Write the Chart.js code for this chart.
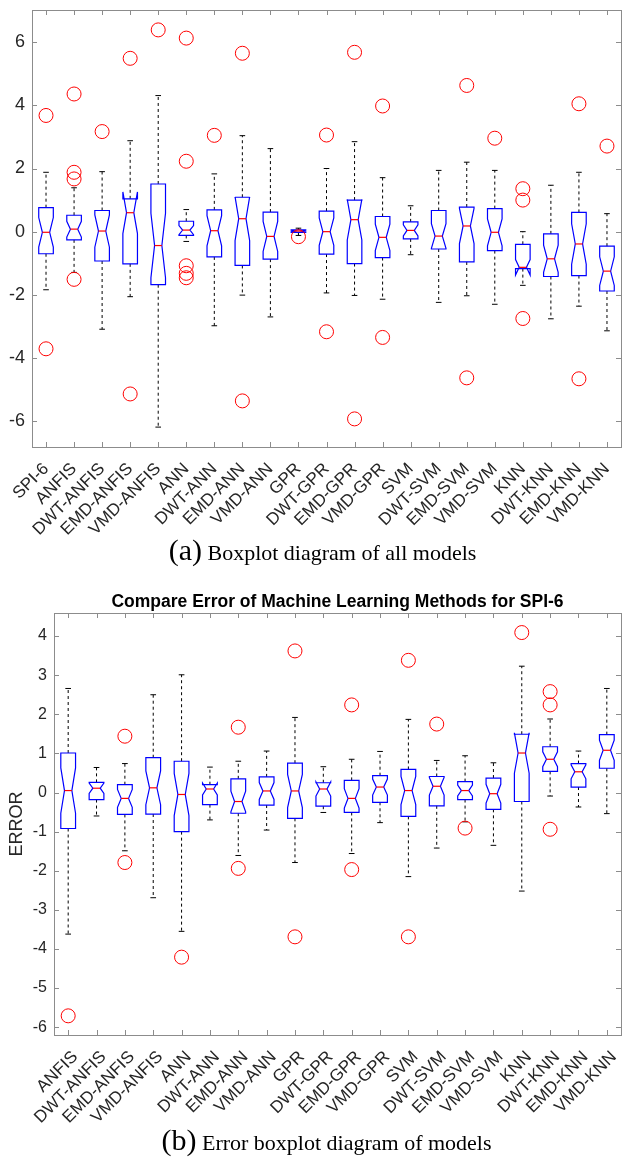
<!DOCTYPE html>
<html lang="en">
<head>
<meta charset="UTF-8">
<title>Boxplot diagrams of models</title>
<script src="https://cdn.jsdelivr.net/npm/chart.js"></script>
<style>
    body { margin: 0; background: #fff; width: 629px; height: 1159px; position: relative; overflow: hidden; }
    canvas { position: absolute; left: 0; }
    #chartA { top: 0; }
    #chartB { top: 560px; }
    .caption {
        position: absolute; left: 8px; width: 629px; text-align: center;
        font-family: "Liberation Serif", "Times New Roman", serif; font-size: 22px; line-height: 30px; color: #000;
    }
    .caption span { font-size: 30px; }
</style>
</head>
<body>
<canvas id="chartA" width="629" height="560"></canvas>
<canvas id="chartB" width="629" height="599"></canvas>
<div class="caption" style="top:535px"><span>(a)</span> Boxplot diagram of all models</div>
<div class="caption" style="top:1125px; left:12px"><span>(b)</span> Error boxplot diagram of models</div>
<script>
// ---- panel (a): all models ----
const namesA = ['SPI-6', 'ANFIS', 'DWT-ANFIS', 'EMD-ANFIS', 'VMD-ANFIS', 'ANN', 'DWT-ANN', 'EMD-ANN', 'VMD-ANN',
    'GPR', 'DWT-GPR', 'EMD-GPR', 'VMD-GPR', 'SVM', 'DWT-SVM', 'EMD-SVM', 'VMD-SVM', 'KNN', 'DWT-KNN', 'EMD-KNN', 'VMD-KNN'];
const lowA  = [-1.84, -1.29, -3.09, -2.06, -6.19, -0.31, -2.98, -2.01, -2.70, -0.12, -1.94, -2.02, -2.14, -0.73, -2.24, -2.03, -2.30, -1.70, -2.76, -2.36, -3.14];
const q1A   = [-0.70, -0.26, -0.93, -1.02, -1.68, -0.12, -0.80, -1.07, -0.87, -0.02, -0.71, -1.01, -0.82, -0.23, -0.55, -0.96, -0.60, -1.17, -1.42, -1.39, -1.88];
const medA  = [-0.02, 0.08, 0.02, 0.60, -0.44, 0.05, 0.03, 0.41, -0.15, 0.02, 0.00, 0.38, -0.18, 0.04, -0.14, 0.18, -0.02, -1.13, -0.86, -0.39, -1.25];
const q3A   = [0.76, 0.52, 0.67, 1.04, 1.51, 0.33, 0.69, 1.09, 0.62, 0.06, 0.65, 1.00, 0.48, 0.31, 0.67, 0.78, 0.73, -0.40, -0.07, 0.61, -0.46];
const highA = [1.88, 1.39, 1.90, 2.88, 4.31, 0.70, 1.83, 3.04, 2.63, 0.11, 2.00, 2.85, 1.71, 0.82, 1.94, 2.20, 1.94, 0.00, 1.47, 1.88, 0.57];
const outA  = [[3.68, -3.71], [4.36, 1.88, 1.67, -1.51], [3.17], [5.49, -5.14], [6.39], [6.13, 2.23, -1.08, -1.32, -1.46],
    [3.05], [5.65, -5.36], [], [-0.16], [3.06, -3.17], [5.68, -5.93], [3.98, -3.35], [], [], [4.63, -4.63], [2.96],
    [1.36, 1.00, -2.75], [], [4.05, -4.66], [2.71]];
const yTicksA = [-6, -4, -2, 0, 2, 4, 6];

// ---- panel (b): errors ----
const namesB = ['ANFIS', 'DWT-ANFIS', 'EMD-ANFIS', 'VMD-ANFIS', 'ANN', 'DWT-ANN', 'EMD-ANN', 'VMD-ANN',
    'GPR', 'DWT-GPR', 'EMD-GPR', 'VMD-GPR', 'SVM', 'DWT-SVM', 'EMD-SVM', 'VMD-SVM', 'KNN', 'DWT-KNN', 'EMD-KNN', 'VMD-KNN'];
const lowB  = [-3.62, -0.60, -1.49, -2.69, -3.55, -0.70, -1.61, -0.96, -1.79, -0.51, -1.56, -0.77, -2.15, -1.42, -0.75, -1.35, -2.52, -0.09, -0.37, -0.54];
const q1B   = [-0.92, -0.18, -0.56, -0.55, -1.00, -0.31, -0.53, -0.32, -0.66, -0.35, -0.51, -0.25, -0.61, -0.34, -0.18, -0.43, -0.23, 0.54, 0.14, 0.62];
const medB  = [0.05, 0.11, -0.15, 0.12, -0.05, 0.09, -0.23, 0.04, 0.04, 0.09, -0.15, 0.14, 0.05, 0.16, 0.05, -0.03, 1.01, 0.85, 0.53, 1.08];
const q3B   = [1.01, 0.26, 0.20, 0.89, 0.80, 0.20, 0.35, 0.40, 0.75, 0.25, 0.31, 0.43, 0.59, 0.41, 0.28, 0.37, 1.49, 1.17, 0.74, 1.48];
const highB = [2.66, 0.64, 0.74, 2.50, 3.01, 0.65, 0.80, 1.06, 1.92, 0.66, 0.85, 1.05, 1.87, 0.82, 0.94, 0.76, 3.23, 1.88, 1.06, 2.66];
const outB  = [[-5.71], [], [1.44, -1.79], [], [-4.21], [], [1.67, -1.94], [], [3.62, -3.69], [], [2.24, -1.97], [],
    [3.38, -3.69], [1.75], [-0.91], [], [4.09], [2.58, 2.24, -0.94], [], []];
const yTicksB = [-6, -5, -4, -3, -2, -1, 0, 1, 2, 3, 4];

const axisColor = '#8c8c8c';
const textColor = '#262626';

// notched boxes, whiskers and medians, matlab style
const notchBoxes = {
    id: 'notchBoxes',
    beforeDatasetsDraw(chart, args, opts) {
        const {ctx, chartArea, scales: {x, y}} = chart;
        const s = opts.stats;
        const w = opts.halfWidth;
        ctx.save();
        ctx.beginPath();
        ctx.rect(chartArea.left, chartArea.top, chartArea.width, chartArea.height);
        ctx.clip();
        s.med.forEach((m, i) => {
            const c = i + 1;
            const nh = opts.notch * (s.q3[i] - s.q1[i]);
            const X = v => x.getPixelForValue(v);
            const Y = v => y.getPixelForValue(v);

            // whiskers
            ctx.lineWidth = 1;
            ctx.strokeStyle = '#000';
            ctx.setLineDash([3, 3]);
            ctx.beginPath();
            ctx.moveTo(X(c), Y(s.q3[i])); ctx.lineTo(X(c), Y(s.high[i]));
            ctx.moveTo(X(c), Y(s.q1[i])); ctx.lineTo(X(c), Y(s.low[i]));
            ctx.stroke();
            ctx.setLineDash([]);
            ctx.beginPath();
            ctx.moveTo(X(c - 0.1), Y(s.high[i])); ctx.lineTo(X(c + 0.1), Y(s.high[i]));
            ctx.moveTo(X(c - 0.1), Y(s.low[i])); ctx.lineTo(X(c + 0.1), Y(s.low[i]));
            ctx.stroke();

            // box with notch
            ctx.strokeStyle = '#0000ff';
            ctx.lineWidth = 1.2;
            ctx.beginPath();
            ctx.moveTo(X(c - w), Y(s.q1[i]));
            ctx.lineTo(X(c - w), Y(m - nh));
            ctx.lineTo(X(c - w / 2), Y(m));
            ctx.lineTo(X(c - w), Y(m + nh));
            ctx.lineTo(X(c - w), Y(s.q3[i]));
            ctx.lineTo(X(c + w), Y(s.q3[i]));
            ctx.lineTo(X(c + w), Y(m + nh));
            ctx.lineTo(X(c + w / 2), Y(m));
            ctx.lineTo(X(c + w), Y(m - nh));
            ctx.lineTo(X(c + w), Y(s.q1[i]));
            ctx.closePath();
            ctx.stroke();

            // median
            ctx.strokeStyle = '#ff0000';
            ctx.beginPath();
            ctx.moveTo(X(c - w / 2), Y(m)); ctx.lineTo(X(c + w / 2), Y(m));
            ctx.stroke();
        });
        ctx.restore();
    }
};

// box around the axes with inward ticks on all sides
const axesFrame = {
    id: 'axesFrame',
    afterDraw(chart) {
        const {ctx, chartArea: a, scales: {x, y}} = chart;
        const t = 5;
        ctx.save();
        ctx.strokeStyle = axisColor;
        ctx.lineWidth = 1;
        ctx.beginPath();
        x.ticks.forEach(tk => {
            const px = Math.round(x.getPixelForValue(tk.value)) + 0.5;
            ctx.moveTo(px, a.bottom); ctx.lineTo(px, a.bottom - t);
            ctx.moveTo(px, a.top); ctx.lineTo(px, a.top + t);
        });
        y.ticks.forEach(tk => {
            const py = Math.round(y.getPixelForValue(tk.value)) + 0.5;
            ctx.moveTo(a.left, py); ctx.lineTo(a.left + t, py);
            ctx.moveTo(a.right, py); ctx.lineTo(a.right - t, py);
        });
        ctx.stroke();
        ctx.strokeRect(Math.round(a.left) + 0.5, Math.round(a.top) + 0.5, Math.round(a.width), Math.round(a.height));
        ctx.restore();
    }
};

function makeChart(id, cfg) {
    const outlierPoints = [];
    cfg.out.forEach((list, i) => list.forEach(v => outlierPoints.push({x: i + 1, y: v})));

    return new Chart(document.getElementById(id), {
        type: 'scatter',
        data: {
            datasets: [{
                label: 'outliers',
                data: outlierPoints,
                pointStyle: 'circle',
                pointRadius: 7,
                borderWidth: 1,
                borderColor: '#ff0000',
                backgroundColor: 'rgba(0,0,0,0)'
            }]
        },
        options: {
            responsive: false,
            animation: false,
            devicePixelRatio: 1,
            layout: {padding: cfg.padding},
            plugins: {
                legend: {display: false},
                tooltip: {enabled: false},
                title: cfg.title,
                notchBoxes: {stats: cfg.stats, halfWidth: 0.26, notch: cfg.notch}
            },
            scales: {
                x: {
                    type: 'linear',
                    min: 0.5,
                    max: cfg.names.length + 0.5,
                    afterBuildTicks: s => { s.ticks = cfg.names.map((n, i) => ({value: i + 1})); },
                    afterFit: s => { s.height = cfg.xHeight; s.paddingLeft = 0; s.paddingRight = 0; },
                    grid: {display: false, drawTicks: false},
                    border: {display: false},
                    ticks: {
                        autoSkip: false,
                        minRotation: 45,
                        maxRotation: 45,
                        padding: 12,
                        labelOffset: cfg.labelShift,
                        color: textColor,
                        font: {family: 'Liberation Sans', size: 17},
                        callback: v => cfg.names[v - 1]
                    }
                },
                y: {
                    min: cfg.yMin,
                    max: cfg.yMax,
                    afterBuildTicks: s => { s.ticks = cfg.yTicks.map(v => ({value: v})); },
                    afterFit: s => { s.width = cfg.yWidth; s.paddingTop = 0; s.paddingBottom = 0; },
                    grid: {display: false, drawTicks: false},
                    border: {display: false},
                    title: cfg.yTitle,
                    ticks: {
                        padding: 7,
                        color: textColor,
                        font: {family: 'Liberation Sans', size: cfg.yFont}
                    }
                }
            }
        },
        plugins: [notchBoxes, axesFrame]
    });
}

makeChart('chartA', {
    names: namesA,
    stats: {low: lowA, q1: q1A, med: medA, q3: q3A, high: highA},
    out: outA,
    yMin: -6.82, yMax: 7.02, yTicks: yTicksA, yFont: 18,
    yWidth: 32, xHeight: 113, labelShift: 0,
    notch: 0.32,
    padding: {top: 10, right: 1, left: 0, bottom: 0},
    title: {display: false},
    yTitle: {display: false}
});

makeChart('chartB', {
    names: namesB,
    stats: {low: lowB, q1: q1B, med: medB, q3: q3B, high: highB},
    out: outB,
    yMin: -6.2, yMax: 4.59, yTicks: yTicksB, yFont: 16,
    yWidth: 54, xHeight: 124, labelShift: 7,
    notch: 0.3,
    padding: {top: 0, right: 1, left: 0, bottom: 0},
    title: {
        display: true,
        fullSize: false,
        text: 'Compare Error of Machine Learning Methods for SPI-6',
        color: '#000',
        font: {family: 'Liberation Sans', size: 17.5, weight: 'bold'},
        padding: {top: 32, bottom: 0}
    },
    yTitle: {
        display: true,
        text: 'ERROR',
        color: textColor,
        font: {family: 'Liberation Sans', size: 18},
        padding: {top: 6, bottom: 0}
    }
});
</script>
</body>
</html>
